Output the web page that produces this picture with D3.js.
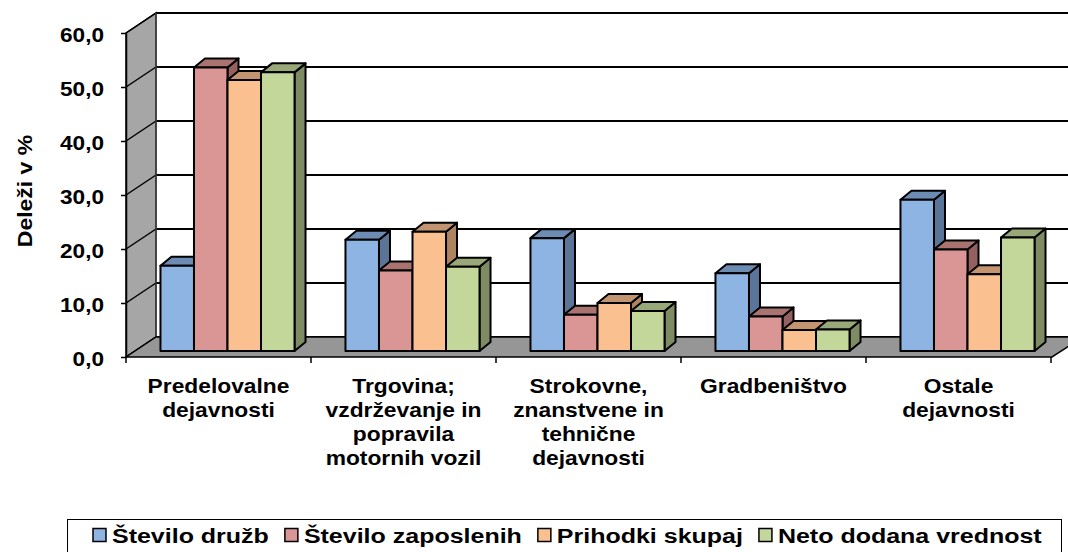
<!DOCTYPE html>
<html>
<head>
<meta charset="utf-8">
<script src="https://cdn.jsdelivr.net/npm/d3@7"></script>
<style>
  body { margin: 0; background: #fff; }
  text { font-family: "Liberation Sans", Arial, sans-serif; font-weight: bold; fill: #000; }
</style>
</head>
<body>
<svg width="1068" height="552"></svg>
<script>
// podatki
const categories = [
  "Predelovalne\ndejavnosti",
  "Trgovina;\nvzdrževanje in\npopravila\nmotornih vozil",
  "Strokovne,\nznanstvene in\ntehnične\ndejavnosti",
  "Gradbeništvo",
  "Ostale\ndejavnosti"
];
const seriesNames = ["Število družb", "Število zaposlenih", "Prihodki skupaj", "Neto dodana vrednost"];
const druzbe    = [15.8, 20.6, 20.9, 14.4, 28.0];
const zaposleni = [52.5, 14.9, 6.7, 6.4, 18.8];
const prihodki  = [50.2, 22.1, 8.9, 3.9, 14.2];
const dodana    = [51.6, 15.6, 7.4, 4.0, 21.0];
const yTicks = [0, 10, 20, 30, 40, 50, 60];

const seriesValues = [druzbe, zaposleni, prihodki, dodana];
// barve: sprednja, zgornja, stranska ploskev
const colors = [
  { front: "#8DB4E3", top: "#6D8CB4", side: "#5A7598" },
  { front: "#DA9694", top: "#A97372", side: "#946160" },
  { front: "#FAC090", top: "#C39470", side: "#AD8360" },
  { front: "#C4D79B", top: "#98A878", side: "#7F8C63" }
];

const left = 126, right = 1051;
const wallDx = 30, wallDy = -20;   // globina stene
const barOffX = 9, barOffY = -6;   // zamik stolpcev od sprednjega roba
const barDx = 11, barDy = -9;      // globina stolpca

const svg = d3.select("svg");

const y = d3.scaleLinear().domain([0, 60]).range([357, 33]);
const xBand = d3.scaleBand().domain(categories).range([left, right]);
const xInner = d3.scaleBand().domain(seriesNames)
  .range([0, xBand.bandwidth()])
  .paddingOuter(0.76);

function stretch(sel, sx) {
  sel.attr("transform", function () {
    const tx = +this.getAttribute("x") || 0, ty = +this.getAttribute("y") || 0;
    return `translate(${tx},${ty}) scale(${sx},1) translate(${-tx},${-ty})`;
  });
}

// zadnja stena
const backX = left + wallDx, backRight = right + wallDx + 2;
svg.append("rect")
  .attr("x", backX).attr("y", y(60) + wallDy)
  .attr("width", backRight - backX).attr("height", y(0) - y(60))
  .attr("fill", "#fff");

svg.append("g").selectAll("line")
  .data(yTicks)
  .join("line")
  .attr("x1", backX).attr("x2", backRight)
  .attr("y1", d => y(d) + wallDy).attr("y2", d => y(d) + wallDy)
  .attr("stroke", "#000").attr("stroke-width", 2);

// leva stena
svg.append("polygon")
  .attr("points", [
    [left, y(60)], [backX, y(60) + wallDy], [backX, y(0) + wallDy], [left, y(0)]
  ].join(" "))
  .attr("fill", "#a6a6a6").attr("stroke", "#000").attr("stroke-width", 1.5);

svg.append("g").selectAll("line")
  .data(yTicks)
  .join("line")
  .attr("x1", left).attr("x2", backX)
  .attr("y1", d => y(d)).attr("y2", d => y(d) + wallDy)
  .attr("stroke", "#000").attr("stroke-width", 1.5);

svg.append("line")
  .attr("x1", backX).attr("x2", backX)
  .attr("y1", y(60) + wallDy).attr("y2", y(0) + wallDy)
  .attr("stroke", "#555").attr("stroke-width", 1);

// tla
svg.append("polygon")
  .attr("points", [
    [left, y(0)], [backX, y(0) + wallDy], [backRight, y(0) + wallDy], [right + 1, y(0)]
  ].join(" "))
  .attr("fill", "#969696").attr("stroke", "#000").attr("stroke-width", 1.5);

// stolpci
const bars = [];
categories.forEach((c, i) => {
  seriesNames.forEach((s, j) => bars.push({ cat: c, s: s, j: j, v: seriesValues[j][i] }));
});

const bw = xInner.bandwidth();
const gBars = svg.append("g")
  .attr("stroke", "#000").attr("stroke-width", 2).attr("stroke-linejoin", "round");

gBars.selectAll("g")
  .data(bars)
  .join("g")
  .each(function (d) {
    const g = d3.select(this);
    const x = xBand(d.cat) + xInner(d.s) + barOffX;
    const yt = y(d.v) + barOffY, yb = y(0) + barOffY;
    const c = colors[d.j];
    g.append("polygon")
      .attr("points", [[x + bw, yt], [x + bw + barDx, yt + barDy], [x + bw + barDx, yb + barDy], [x + bw, yb]].join(" "))
      .attr("fill", c.side);
    g.append("polygon")
      .attr("points", [[x, yt], [x + barDx, yt + barDy], [x + bw + barDx, yt + barDy], [x + bw, yt]].join(" "))
      .attr("fill", c.top);
    g.append("rect")
      .attr("x", x).attr("y", yt).attr("width", bw).attr("height", yb - yt)
      .attr("fill", c.front);
  });

// os y
const yAxis = d3.axisLeft(y)
  .tickValues(yTicks)
  .tickSize(5)
  .tickSizeOuter(0)
  .tickPadding(17)
  .tickFormat(d => d3.format(".1f")(d).replace(".", ","));

const gy = svg.append("g")
  .attr("transform", `translate(${left},0)`)
  .call(yAxis);
gy.select(".domain").attr("stroke", "#000").attr("stroke-width", 1.5);
gy.selectAll(".tick line").attr("stroke", "#000").attr("stroke-width", 1.5);
gy.selectAll(".tick text")
  .attr("font-size", 19.5)
  .attr("font-family", "Liberation Sans, Arial, sans-serif")
  .attr("dy", "0.45em")
  .call(stretch, 1.16);

// os x
const boundaries = categories.map(c => xBand(c)).concat([right]);
svg.append("g").selectAll("line")
  .data(boundaries)
  .join("line")
  .attr("x1", d => d).attr("x2", d => d)
  .attr("y1", y(0)).attr("y2", y(0) + 6)
  .attr("stroke", "#000").attr("stroke-width", 1.5);

const xAxis = d3.axisBottom(xBand).tickSize(0).tickPadding(0);
const gx = svg.append("g")
  .attr("transform", `translate(0,${y(0)})`)
  .call(xAxis);
gx.select(".domain").remove();
gx.selectAll(".tick text").each(function (d) {
  const t = d3.select(this).text(null)
    .attr("font-size", 20)
    .attr("font-family", "Liberation Sans, Arial, sans-serif")
    .attr("y", 36).attr("dy", 0);
  d.split("\n").forEach((line, k) => {
    t.append("tspan").attr("x", 0).attr("y", 36 + k * 24).text(line);
  });
});
gx.selectAll(".tick text").attr("transform", "scale(1.14,1)");

// naslov osi y
svg.append("text")
  .attr("transform", "translate(32,191) rotate(-90) scale(1.15,1)")
  .attr("text-anchor", "middle")
  .attr("font-size", 20)
  .text("Deleži v %");

// legenda
svg.append("rect")
  .attr("x", 67.5).attr("y", 519.5)
  .attr("width", 994).attr("height", 40)
  .attr("fill", "none").attr("stroke", "#000").attr("stroke-width", 1);

const legendSx = 1.25;
let lx = 93;
seriesNames.forEach((s, j) => {
  svg.append("rect")
    .attr("x", lx).attr("y", 528.5)
    .attr("width", 13).attr("height", 13)
    .attr("fill", colors[j].front)
    .attr("stroke", "#000").attr("stroke-width", 1.5);
  const tx = lx + 19;
  const t = svg.append("text")
    .attr("x", tx).attr("y", 543)
    .attr("font-size", 20)
    .text(s)
    .call(stretch, legendSx);
  lx = tx + t.node().getComputedTextLength() * legendSx + 16;
});
</script>
</body>
</html>
